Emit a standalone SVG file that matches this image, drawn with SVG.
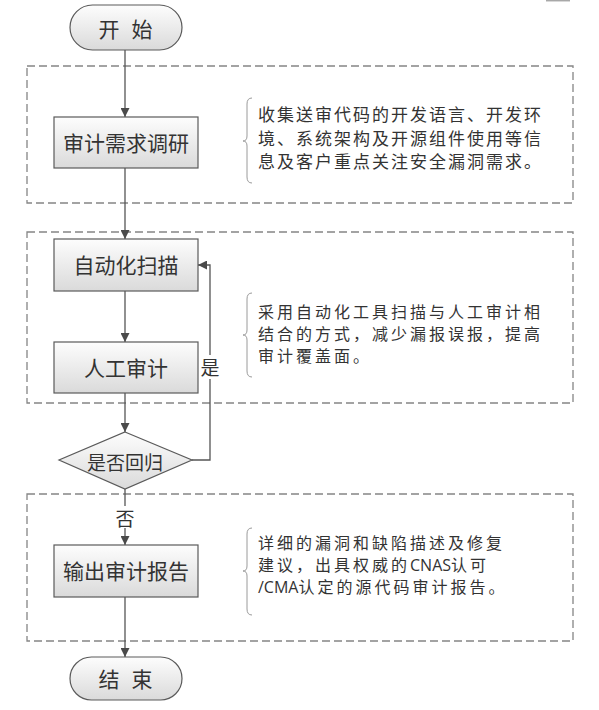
<svg xmlns="http://www.w3.org/2000/svg" width="599" height="710" viewBox="0 0 599 710">
<defs>
<linearGradient id="g" x1="0" y1="0" x2="0" y2="1">
<stop offset="0" stop-color="#fdfdfd"/>
<stop offset="1" stop-color="#dadada"/>
</linearGradient>
<marker id="arr" viewBox="0 0 10 10" refX="10" refY="5" markerWidth="9" markerHeight="9" markerUnits="userSpaceOnUse" orient="auto">
<path d="M0,0 L10,5 L0,10 z" fill="#4a4a4a"/>
</marker>
<style>
.box{fill:url(#g);stroke:#5a5a5a;stroke-width:1.2}
.dash{fill:none;stroke:#858585;stroke-width:1.3;stroke-dasharray:8 4}
.lbl{font-family:"Noto Sans CJK SC",sans-serif;font-size:21px;fill:#333;text-anchor:middle;dominant-baseline:central}
.desc{font-family:"Noto Sans CJK SC",sans-serif;font-size:17px;fill:#333;letter-spacing:2px}
.desc3{font-family:"Noto Sans CJK SC",sans-serif;font-size:16px;fill:#333;letter-spacing:3px}
.lat{font-family:"Open Sans","Liberation Sans",sans-serif;letter-spacing:0}
.conn{fill:none;stroke:#555;stroke-width:1.3}
.brace{fill:none;stroke:#9a9a9a;stroke-width:1}
</style>
</defs>
<rect width="599" height="710" fill="#fff"/>
<line x1="546" y1="0.7" x2="570" y2="0.7" stroke="#a8a8a8" stroke-width="1.5"/>

<g id="groups">
<rect class="dash" x="27" y="66" width="546" height="137"/>
<rect class="dash" x="27" y="232" width="546" height="171"/>
<rect class="dash" x="27" y="494" width="546" height="147"/>
</g>

<g id="connectors">
<line class="conn" x1="125" y1="50" x2="125" y2="117" marker-end="url(#arr)"/>
<line class="conn" x1="125" y1="168" x2="125" y2="239" marker-end="url(#arr)"/>
<line class="conn" x1="125" y1="291" x2="125" y2="342" marker-end="url(#arr)"/>
<line class="conn" x1="125" y1="393" x2="125" y2="432" marker-end="url(#arr)"/>
<line class="conn" x1="125" y1="489" x2="125" y2="545" marker-end="url(#arr)"/>
<line class="conn" x1="125" y1="597" x2="125" y2="657" marker-end="url(#arr)"/>
<polyline class="conn" points="192,460 210,460 210,265 198,265" marker-end="url(#arr)"/>
<rect x="199" y="355" width="22" height="24" fill="#fff"/>
<text class="lbl" x="210" y="366" style="font-size:19px">是</text>
<rect x="114" y="506" width="22" height="22" fill="#fff"/>
<text class="lbl" x="125" y="517" style="font-size:19px">否</text>
</g>

<g id="start">
<rect class="box" x="70" y="5" width="112" height="45" rx="22.5" ry="22.5"/>
<text class="lbl" x="109" y="28">开</text>
<text class="lbl" x="142" y="28">始</text>
</g>

<g id="n1">
<rect class="box" x="54" y="117" width="144" height="51"/>
<text class="lbl" x="126" y="142">审计需求调研</text>
</g>

<g id="n2">
<rect class="box" x="54" y="239" width="144" height="52"/>
<text class="lbl" x="126" y="264">自动化扫描</text>
</g>

<g id="n3">
<rect class="box" x="54" y="342" width="144" height="51"/>
<text class="lbl" x="126" y="367">人工审计</text>
</g>

<g id="decision">
<polygon class="box" points="125,432 192,460 125,489 59,460"/>
<text class="lbl" x="125" y="461" style="font-size:19px">是否回归</text>
</g>

<g id="n4">
<rect class="box" x="54" y="545" width="144" height="52"/>
<text class="lbl" x="126" y="570">输出审计报告</text>
</g>

<g id="end">
<rect class="box" x="70" y="657" width="112" height="43" rx="21.5" ry="21.5"/>
<text class="lbl" x="109" y="678">结</text>
<text class="lbl" x="142" y="678">束</text>
</g>

<g id="note1">
<path class="brace" d="M252,98 Q247,98 247,104 L247,136 Q247,141 243,141 Q247,141 247,146 L247,177 Q247,183 252,183"/>
<text class="desc" x="258" y="121">收集送审代码的开发语言、开发环</text>
<text class="desc" x="258" y="145">境、系统架构及开源组件使用等信</text>
<text class="desc" x="258" y="168">息及客户重点关注安全漏洞需求。</text>
</g>

<g id="note2">
<path class="brace" d="M252,293 Q247,293 247,299 L247,330 Q247,335 243,335 Q247,335 247,340 L247,371 Q247,377 252,377"/>
<text class="desc3" x="258" y="318">采用自动化工具扫描与人工审计相</text>
<text class="desc3" x="258" y="340">结合的方式，减少漏报误报，提高</text>
<text class="desc3" x="258" y="362">审计覆盖面。</text>
</g>

<g id="note3">
<path class="brace" d="M252,528 Q247,528 247,534 L247,566 Q247,571 243,571 Q247,571 247,576 L247,609 Q247,615 252,615"/>
<text class="desc3" x="258" y="549">详细的漏洞和缺陷描述及修复</text>
<text class="desc3" x="258" y="571">建议，出具权威的<tspan class="lat">CNAS</tspan>认可</text>
<text class="desc3" x="258" y="593"><tspan class="lat">/CMA</tspan>认定的源代码审计报告。</text>
</g>
</svg>
